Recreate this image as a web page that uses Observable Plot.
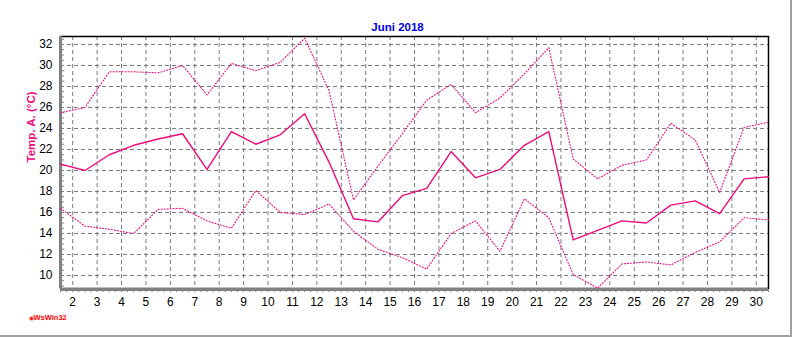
<!DOCTYPE html>
<html><head><meta charset="utf-8">
<script src="https://cdn.jsdelivr.net/npm/d3@7"></script>
<script src="https://cdn.jsdelivr.net/npm/@observablehq/plot@0.6"></script>
<style>
body{margin:0;background:#fff;}
#wrap{position:relative;width:792px;height:337px;overflow:hidden;background:#fff;}
#wrap .edgeR{position:absolute;right:0;top:0;width:2px;height:337px;background:#a0a0a0;}
#wrap .edgeB{position:absolute;left:0;bottom:0;width:792px;height:2px;background:#a0a0a0;}
svg{display:block;}
</style></head><body><div id="wrap"><div class="edgeR"></div><div class="edgeB"></div></div>
<script>
const title = "Juni 2018";
const yLabel = "Temp. A. (°C)";
const logo = "WsWin32";
const days = [1,2,3,4,5,6,7,8,9,10,11,12,13,14,15,16,17,18,19,20,21,22,23,24,25,26,27,28,29,30];
const tmax = [25.5,26.0,29.4,29.4,29.3,30.0,27.2,30.2,29.5,30.3,32.6,27.6,17.2,20.4,23.5,26.7,28.2,25.5,26.9,29.2,31.7,21.1,19.2,20.5,21.0,24.5,22.9,17.9,24.1,24.6];
const tmean = [20.6,20.0,21.5,22.4,23.0,23.5,20.1,23.7,22.5,23.4,25.4,20.8,15.4,15.1,17.6,18.3,21.8,19.3,20.1,22.4,23.7,13.4,14.3,15.2,15.0,16.7,17.1,15.9,19.2,19.4];
const tmin = [16.4,14.7,14.4,14.0,16.3,16.4,15.2,14.5,18.1,16.0,15.8,16.8,14.2,12.5,11.7,10.6,14.0,15.2,12.3,17.3,15.5,10.1,8.8,11.1,11.3,11.0,12.2,13.2,15.5,15.3];
const xTicks = [2,3,4,5,6,7,8,9,10,11,12,13,14,15,16,17,18,19,20,21,22,23,24,25,26,27,28,29,30];
const yTicks = [10,12,14,16,18,20,22,24,26,28,30,32];
const xDomain = [1.5, 30.5];
const yDomain = [8.76, 32.76];

const data = days.map((d, i) => ({day: d, max: tmax[i], mean: tmean[i], min: tmin[i]}));
const pos = d => d.day + 0.5; // value of day d plotted at its noon
const pink = "#f00a7c";
const xMinor = d3.range(xDomain[0], xDomain[1] + 0.001, 0.25);
const yMinor = d3.range(9, yDomain[1], 0.5);

const chart = Plot.plot({
  width: 792, height: 337,
  marginLeft: 60, marginRight: 24, marginTop: 36, marginBottom: 49,
  style: {fontFamily: "'Liberation Sans', Arial, sans-serif", fontSize: "12px", background: "white", color: "black"},
  x: {domain: xDomain},
  y: {domain: yDomain},
  marks: [
    Plot.gridX(xTicks, {stroke: "#7a7a7a", strokeOpacity: 1, strokeDasharray: "4,3"}),
    Plot.gridY(yTicks, {stroke: "#7a7a7a", strokeOpacity: 1, strokeDasharray: "4,3"}),
    Plot.frame({stroke: "black", strokeWidth: 1.5}),
    Plot.ruleX([xDomain[0]], {stroke: "#808080", strokeWidth: 3}),
    Plot.ruleY([yDomain[0]], {stroke: "#808080", strokeWidth: 3, dy: 1}),
    Plot.axisX(xMinor, {anchor: "bottom", tickSize: 2, dy: 2, tickFormat: () => "", stroke: "#808080"}),
    Plot.axisY(yMinor, {anchor: "left", tickSize: 3, dx: 4, tickFormat: () => "", stroke: "#808080"}),
    Plot.axisX(xTicks, {anchor: "bottom", tickSize: 0, tickPadding: 9, fontSize: 12, fill: "black"}),
    Plot.axisY(yTicks, {anchor: "left", tickSize: 0, tickPadding: 8, fontSize: 12, fill: "black", label: null}),
    Plot.line(data, {x: pos, y: "max", stroke: pink, strokeWidth: 1.1, strokeDasharray: "1,2"}),
    Plot.line(data, {x: pos, y: "min", stroke: pink, strokeWidth: 1.1, strokeDasharray: "1,2"}),
    Plot.line(data, {x: pos, y: "mean", stroke: pink, strokeWidth: 1.4}),
    Plot.text([title], {frameAnchor: "top", dx: -17, dy: -14, fill: "#0000ee", fontWeight: "bold", fontSize: 11.5}),
    Plot.text([yLabel], {frameAnchor: "left", rotate: -90, dx: -29, fill: pink, fontWeight: "bold", fontSize: 11.5}),
    Plot.text([logo], {frameAnchor: "bottom-left", dx: -27, dy: 31, textAnchor: "start", fill: "#ff0000", fontWeight: "bold", fontSize: 7.5}),
    Plot.text(["◉"], {frameAnchor: "bottom-left", dx: -32, dy: 31, fill: "#ff0000", fontSize: 5.5})
  ]
});
document.getElementById("wrap").prepend(chart);
</script>
</body></html>
